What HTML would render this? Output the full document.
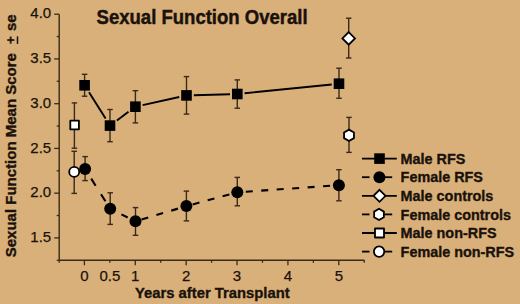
<!DOCTYPE html>
<html><head><meta charset="utf-8"><style>
html,body{margin:0;padding:0;background:#D9B07A;width:520px;height:304px;overflow:hidden}
svg{display:block}
text{font-family:"Liberation Sans",sans-serif;fill:#1a120a}
.tk{font-size:15px;stroke:#1a120a;stroke-width:0.25px}
.ti{font-size:19.4px;font-weight:bold;stroke:#1a120a;stroke-width:0.45px}
.xt{font-size:14.8px;font-weight:bold;stroke:#1a120a;stroke-width:0.35px}
.yt{font-size:15px;font-weight:bold;stroke:#1a120a;stroke-width:0.35px}
.lg{font-size:14.4px;font-weight:bold;stroke:#1a120a;stroke-width:0.35px}
</style></head><body>
<svg width="520" height="304" viewBox="0 0 520 304">
<rect width="520" height="304" fill="#D9B07A"/>
<line x1="59.2" y1="14.2" x2="59.2" y2="260.3" stroke="#3a2a18" stroke-width="1.4"/>
<line x1="59.2" y1="260.3" x2="364.5" y2="260.3" stroke="#3a2a18" stroke-width="1.4"/>
<line x1="54.20" y1="14.20" x2="59.2" y2="14.20" stroke="#3a2a18" stroke-width="1.3"/>
<line x1="56.70" y1="36.57" x2="59.2" y2="36.57" stroke="#3a2a18" stroke-width="1.3"/>
<line x1="54.20" y1="58.94" x2="59.2" y2="58.94" stroke="#3a2a18" stroke-width="1.3"/>
<line x1="56.70" y1="81.31" x2="59.2" y2="81.31" stroke="#3a2a18" stroke-width="1.3"/>
<line x1="54.20" y1="103.68" x2="59.2" y2="103.68" stroke="#3a2a18" stroke-width="1.3"/>
<line x1="56.70" y1="126.05" x2="59.2" y2="126.05" stroke="#3a2a18" stroke-width="1.3"/>
<line x1="54.20" y1="148.42" x2="59.2" y2="148.42" stroke="#3a2a18" stroke-width="1.3"/>
<line x1="56.70" y1="170.79" x2="59.2" y2="170.79" stroke="#3a2a18" stroke-width="1.3"/>
<line x1="54.20" y1="193.16" x2="59.2" y2="193.16" stroke="#3a2a18" stroke-width="1.3"/>
<line x1="56.70" y1="215.53" x2="59.2" y2="215.53" stroke="#3a2a18" stroke-width="1.3"/>
<line x1="54.20" y1="237.90" x2="59.2" y2="237.90" stroke="#3a2a18" stroke-width="1.3"/>
<line x1="56.70" y1="260.30" x2="59.2" y2="260.30" stroke="#3a2a18" stroke-width="1.3"/>
<text x="51.2" y="18.30" text-anchor="end" class="tk">4.0</text>
<text x="51.2" y="63.04" text-anchor="end" class="tk">3.5</text>
<text x="51.2" y="107.78" text-anchor="end" class="tk">3.0</text>
<text x="51.2" y="152.52" text-anchor="end" class="tk">2.5</text>
<text x="51.2" y="197.26" text-anchor="end" class="tk">2.0</text>
<text x="51.2" y="242.00" text-anchor="end" class="tk">1.5</text>
<line x1="59.20" y1="260.3" x2="59.20" y2="262.80" stroke="#3a2a18" stroke-width="1.3"/>
<line x1="84.40" y1="260.3" x2="84.40" y2="265.30" stroke="#3a2a18" stroke-width="1.3"/>
<line x1="109.84" y1="260.3" x2="109.84" y2="262.80" stroke="#3a2a18" stroke-width="1.3"/>
<line x1="135.28" y1="260.3" x2="135.28" y2="265.30" stroke="#3a2a18" stroke-width="1.3"/>
<line x1="160.72" y1="260.3" x2="160.72" y2="262.80" stroke="#3a2a18" stroke-width="1.3"/>
<line x1="186.16" y1="260.3" x2="186.16" y2="265.30" stroke="#3a2a18" stroke-width="1.3"/>
<line x1="211.60" y1="260.3" x2="211.60" y2="262.80" stroke="#3a2a18" stroke-width="1.3"/>
<line x1="237.04" y1="260.3" x2="237.04" y2="265.30" stroke="#3a2a18" stroke-width="1.3"/>
<line x1="262.48" y1="260.3" x2="262.48" y2="262.80" stroke="#3a2a18" stroke-width="1.3"/>
<line x1="287.92" y1="260.3" x2="287.92" y2="265.30" stroke="#3a2a18" stroke-width="1.3"/>
<line x1="313.36" y1="260.3" x2="313.36" y2="262.80" stroke="#3a2a18" stroke-width="1.3"/>
<line x1="338.80" y1="260.3" x2="338.80" y2="265.30" stroke="#3a2a18" stroke-width="1.3"/>
<line x1="364.24" y1="260.3" x2="364.24" y2="262.80" stroke="#3a2a18" stroke-width="1.3"/>
<text x="84.40" y="280.6" text-anchor="middle" class="tk">0</text>
<text x="109.84" y="280.6" text-anchor="middle" class="tk">0.5</text>
<text x="135.28" y="280.6" text-anchor="middle" class="tk">1</text>
<text x="186.16" y="280.6" text-anchor="middle" class="tk">2</text>
<text x="237.04" y="280.6" text-anchor="middle" class="tk">3</text>
<text x="287.92" y="280.6" text-anchor="middle" class="tk">4</text>
<text x="338.80" y="280.6" text-anchor="middle" class="tk">5</text>
<text x="96.6" y="24.0" class="ti" textLength="211" lengthAdjust="spacingAndGlyphs">Sexual Function Overall</text>
<text x="135.0" y="297.9" class="xt">Years after Transplant</text>
<g transform="translate(16.3,257.3) rotate(-90)"><text x="0" y="0" class="yt">Sexual Function Mean Score</text><text x="213.40" y="-1.6" class="yt" style="font-size:13.5px">+</text><line x1="213.40" y1="1.2" x2="220.90" y2="1.2" stroke="#1a120a" stroke-width="1.5"/><text x="226.20" y="0" class="yt">se</text></g>
<line x1="84.6" y1="74.3" x2="84.6" y2="96.2" stroke="#3a2a18" stroke-width="1.4"/>
<line x1="81.85" y1="74.3" x2="87.35" y2="74.3" stroke="#3a2a18" stroke-width="1.4"/>
<line x1="81.85" y1="96.2" x2="87.35" y2="96.2" stroke="#3a2a18" stroke-width="1.4"/>
<line x1="110" y1="109.5" x2="110" y2="141.7" stroke="#3a2a18" stroke-width="1.4"/>
<line x1="107.25" y1="109.5" x2="112.75" y2="109.5" stroke="#3a2a18" stroke-width="1.4"/>
<line x1="107.25" y1="141.7" x2="112.75" y2="141.7" stroke="#3a2a18" stroke-width="1.4"/>
<line x1="135.4" y1="90.7" x2="135.4" y2="122.9" stroke="#3a2a18" stroke-width="1.4"/>
<line x1="132.65" y1="90.7" x2="138.15" y2="90.7" stroke="#3a2a18" stroke-width="1.4"/>
<line x1="132.65" y1="122.9" x2="138.15" y2="122.9" stroke="#3a2a18" stroke-width="1.4"/>
<line x1="186.5" y1="76.6" x2="186.5" y2="114.1" stroke="#3a2a18" stroke-width="1.4"/>
<line x1="183.75" y1="76.6" x2="189.25" y2="76.6" stroke="#3a2a18" stroke-width="1.4"/>
<line x1="183.75" y1="114.1" x2="189.25" y2="114.1" stroke="#3a2a18" stroke-width="1.4"/>
<line x1="237.3" y1="79.9" x2="237.3" y2="108.2" stroke="#3a2a18" stroke-width="1.4"/>
<line x1="234.55" y1="79.9" x2="240.05" y2="79.9" stroke="#3a2a18" stroke-width="1.4"/>
<line x1="234.55" y1="108.2" x2="240.05" y2="108.2" stroke="#3a2a18" stroke-width="1.4"/>
<line x1="339" y1="68.2" x2="339" y2="98.3" stroke="#3a2a18" stroke-width="1.4"/>
<line x1="336.25" y1="68.2" x2="341.75" y2="68.2" stroke="#3a2a18" stroke-width="1.4"/>
<line x1="336.25" y1="98.3" x2="341.75" y2="98.3" stroke="#3a2a18" stroke-width="1.4"/>
<line x1="85.1" y1="156.6" x2="85.1" y2="180.6" stroke="#3a2a18" stroke-width="1.4"/>
<line x1="82.35" y1="156.6" x2="87.85" y2="156.6" stroke="#3a2a18" stroke-width="1.4"/>
<line x1="82.35" y1="180.6" x2="87.85" y2="180.6" stroke="#3a2a18" stroke-width="1.4"/>
<line x1="110.2" y1="192.8" x2="110.2" y2="224.4" stroke="#3a2a18" stroke-width="1.4"/>
<line x1="107.45" y1="192.8" x2="112.95" y2="192.8" stroke="#3a2a18" stroke-width="1.4"/>
<line x1="107.45" y1="224.4" x2="112.95" y2="224.4" stroke="#3a2a18" stroke-width="1.4"/>
<line x1="135.5" y1="207.6" x2="135.5" y2="235.3" stroke="#3a2a18" stroke-width="1.4"/>
<line x1="132.75" y1="207.6" x2="138.25" y2="207.6" stroke="#3a2a18" stroke-width="1.4"/>
<line x1="132.75" y1="235.3" x2="138.25" y2="235.3" stroke="#3a2a18" stroke-width="1.4"/>
<line x1="186.4" y1="191.1" x2="186.4" y2="220.9" stroke="#3a2a18" stroke-width="1.4"/>
<line x1="183.65" y1="191.1" x2="189.15" y2="191.1" stroke="#3a2a18" stroke-width="1.4"/>
<line x1="183.65" y1="220.9" x2="189.15" y2="220.9" stroke="#3a2a18" stroke-width="1.4"/>
<line x1="237.3" y1="177.4" x2="237.3" y2="205.8" stroke="#3a2a18" stroke-width="1.4"/>
<line x1="234.55" y1="177.4" x2="240.05" y2="177.4" stroke="#3a2a18" stroke-width="1.4"/>
<line x1="234.55" y1="205.8" x2="240.05" y2="205.8" stroke="#3a2a18" stroke-width="1.4"/>
<line x1="338.9" y1="169.7" x2="338.9" y2="200.8" stroke="#3a2a18" stroke-width="1.4"/>
<line x1="336.15" y1="169.7" x2="341.65" y2="169.7" stroke="#3a2a18" stroke-width="1.4"/>
<line x1="336.15" y1="200.8" x2="341.65" y2="200.8" stroke="#3a2a18" stroke-width="1.4"/>
<line x1="348.7" y1="18.2" x2="348.7" y2="58" stroke="#3a2a18" stroke-width="1.4"/>
<line x1="345.95" y1="18.2" x2="351.45" y2="18.2" stroke="#3a2a18" stroke-width="1.4"/>
<line x1="345.95" y1="58" x2="351.45" y2="58" stroke="#3a2a18" stroke-width="1.4"/>
<line x1="349" y1="117.4" x2="349" y2="152.4" stroke="#3a2a18" stroke-width="1.4"/>
<line x1="346.25" y1="117.4" x2="351.75" y2="117.4" stroke="#3a2a18" stroke-width="1.4"/>
<line x1="346.25" y1="152.4" x2="351.75" y2="152.4" stroke="#3a2a18" stroke-width="1.4"/>
<line x1="74.4" y1="102.9" x2="74.4" y2="148.2" stroke="#3a2a18" stroke-width="1.4"/>
<line x1="71.65" y1="102.9" x2="77.15" y2="102.9" stroke="#3a2a18" stroke-width="1.4"/>
<line x1="71.65" y1="148.2" x2="77.15" y2="148.2" stroke="#3a2a18" stroke-width="1.4"/>
<line x1="74.2" y1="151.3" x2="74.2" y2="193.4" stroke="#3a2a18" stroke-width="1.4"/>
<line x1="71.45" y1="151.3" x2="76.95" y2="151.3" stroke="#3a2a18" stroke-width="1.4"/>
<line x1="71.45" y1="193.4" x2="76.95" y2="193.4" stroke="#3a2a18" stroke-width="1.4"/>
<line x1="89.01" y1="92.29" x2="105.59" y2="118.61" stroke="#000" stroke-width="1.9"/>
<line x1="116.90" y1="120.46" x2="128.50" y2="111.84" stroke="#000" stroke-width="1.9"/>
<line x1="142.65" y1="105.10" x2="179.25" y2="97.00" stroke="#000" stroke-width="1.9"/>
<line x1="193.80" y1="95.20" x2="230.00" y2="94.20" stroke="#000" stroke-width="1.9"/>
<line x1="244.59" y1="93.26" x2="331.71" y2="84.44" stroke="#000" stroke-width="1.9"/>
<line x1="85.1" y1="169.0" x2="110.2" y2="208.8" stroke="#000" stroke-width="2.1" stroke-dasharray="8.3 10.1" stroke-dashoffset="6.95"/>
<line x1="110.2" y1="208.8" x2="135.5" y2="221.3" stroke="#000" stroke-width="2.1" stroke-dasharray="7.0 8.5" stroke-dashoffset="3.00"/>
<line x1="135.5" y1="221.3" x2="186.4" y2="206.1" stroke="#000" stroke-width="2.1" stroke-dasharray="7.0 8.5" stroke-dashoffset="9.20"/>
<line x1="186.4" y1="206.1" x2="237.3" y2="192.3" stroke="#000" stroke-width="2.1" stroke-dasharray="7.0 8.5" stroke-dashoffset="9.00"/>
<line x1="237.3" y1="192.3" x2="338.9" y2="185.2" stroke="#000" stroke-width="2.1" stroke-dasharray="7.0 8.5" stroke-dashoffset="7.00"/>
<rect x="79.3" y="80.0" width="10.6" height="10.6" fill="#000"/>
<rect x="104.7" y="120.3" width="10.6" height="10.6" fill="#000"/>
<rect x="130.1" y="101.4" width="10.6" height="10.6" fill="#000"/>
<rect x="181.2" y="90.10000000000001" width="10.6" height="10.6" fill="#000"/>
<rect x="232.0" y="88.7" width="10.6" height="10.6" fill="#000"/>
<rect x="333.7" y="78.4" width="10.6" height="10.6" fill="#000"/>
<circle cx="85.1" cy="169.0" r="6.0" fill="#000"/>
<circle cx="110.2" cy="208.8" r="6.0" fill="#000"/>
<circle cx="135.5" cy="221.3" r="6.0" fill="#000"/>
<circle cx="186.4" cy="206.1" r="6.0" fill="#000"/>
<circle cx="237.3" cy="192.3" r="6.0" fill="#000"/>
<circle cx="338.9" cy="185.2" r="6.0" fill="#000"/>
<polygon points="348.7,32.1 355.0,38.4 348.7,44.699999999999996 342.4,38.4" fill="#fff" stroke="#000" stroke-width="1.8"/>
<polygon points="349.00,129.60 353.94,132.45 353.94,138.15 349.00,141.00 344.06,138.15 344.06,132.45" fill="#fff" stroke="#000" stroke-width="1.8"/>
<rect x="70.3" y="120.7" width="8.6" height="8.6" fill="#fff" stroke="#000" stroke-width="1.8" stroke-linejoin="round"/>
<circle cx="74.2" cy="171.9" r="5.0" fill="#fff" stroke="#000" stroke-width="1.8"/>
<line x1="362.0" y1="158.6" x2="396.8" y2="158.6" stroke="#000" stroke-width="1.8"/>
<text x="400.6" y="163.80" class="lg">Male RFS</text>
<line x1="362.0" y1="177.2" x2="369.5" y2="177.2" stroke="#000" stroke-width="1.8"/>
<line x1="379.4" y1="177.2" x2="392.2" y2="177.2" stroke="#000" stroke-width="1.8"/>
<text x="400.6" y="182.40" class="lg">Female RFS</text>
<line x1="362.0" y1="195.8" x2="396.8" y2="195.8" stroke="#000" stroke-width="1.8"/>
<text x="400.6" y="201.00" class="lg">Male controls</text>
<line x1="362.0" y1="214.4" x2="369.5" y2="214.4" stroke="#000" stroke-width="1.8"/>
<line x1="379.4" y1="214.4" x2="392.2" y2="214.4" stroke="#000" stroke-width="1.8"/>
<text x="400.6" y="219.60" class="lg">Female controls</text>
<line x1="362.0" y1="233.0" x2="396.8" y2="233.0" stroke="#000" stroke-width="1.8"/>
<text x="400.6" y="238.20" class="lg">Male non-RFS</text>
<line x1="362.0" y1="251.6" x2="369.5" y2="251.6" stroke="#000" stroke-width="1.8"/>
<line x1="379.4" y1="251.6" x2="392.2" y2="251.6" stroke="#000" stroke-width="1.8"/>
<text x="400.6" y="256.80" class="lg">Female non-RFS</text>
<rect x="374.2" y="153.29999999999998" width="10.6" height="10.6" fill="#000"/>
<circle cx="379.4" cy="177.2" r="6.0" fill="#000"/>
<polygon points="379.5,189.8 385.5,195.8 379.5,201.8 373.5,195.8" fill="#fff" stroke="#000" stroke-width="1.8"/>
<polygon points="379.00,208.80 383.85,211.60 383.85,217.20 379.00,220.00 374.15,217.20 374.15,211.60" fill="#fff" stroke="#000" stroke-width="1.8"/>
<rect x="375.0" y="228.5" width="9.0" height="9.0" fill="#fff" stroke="#000" stroke-width="1.8" stroke-linejoin="round"/>
<circle cx="379.1" cy="251.6" r="5.199999999999999" fill="#fff" stroke="#000" stroke-width="1.8"/>
</svg>
</body></html>
